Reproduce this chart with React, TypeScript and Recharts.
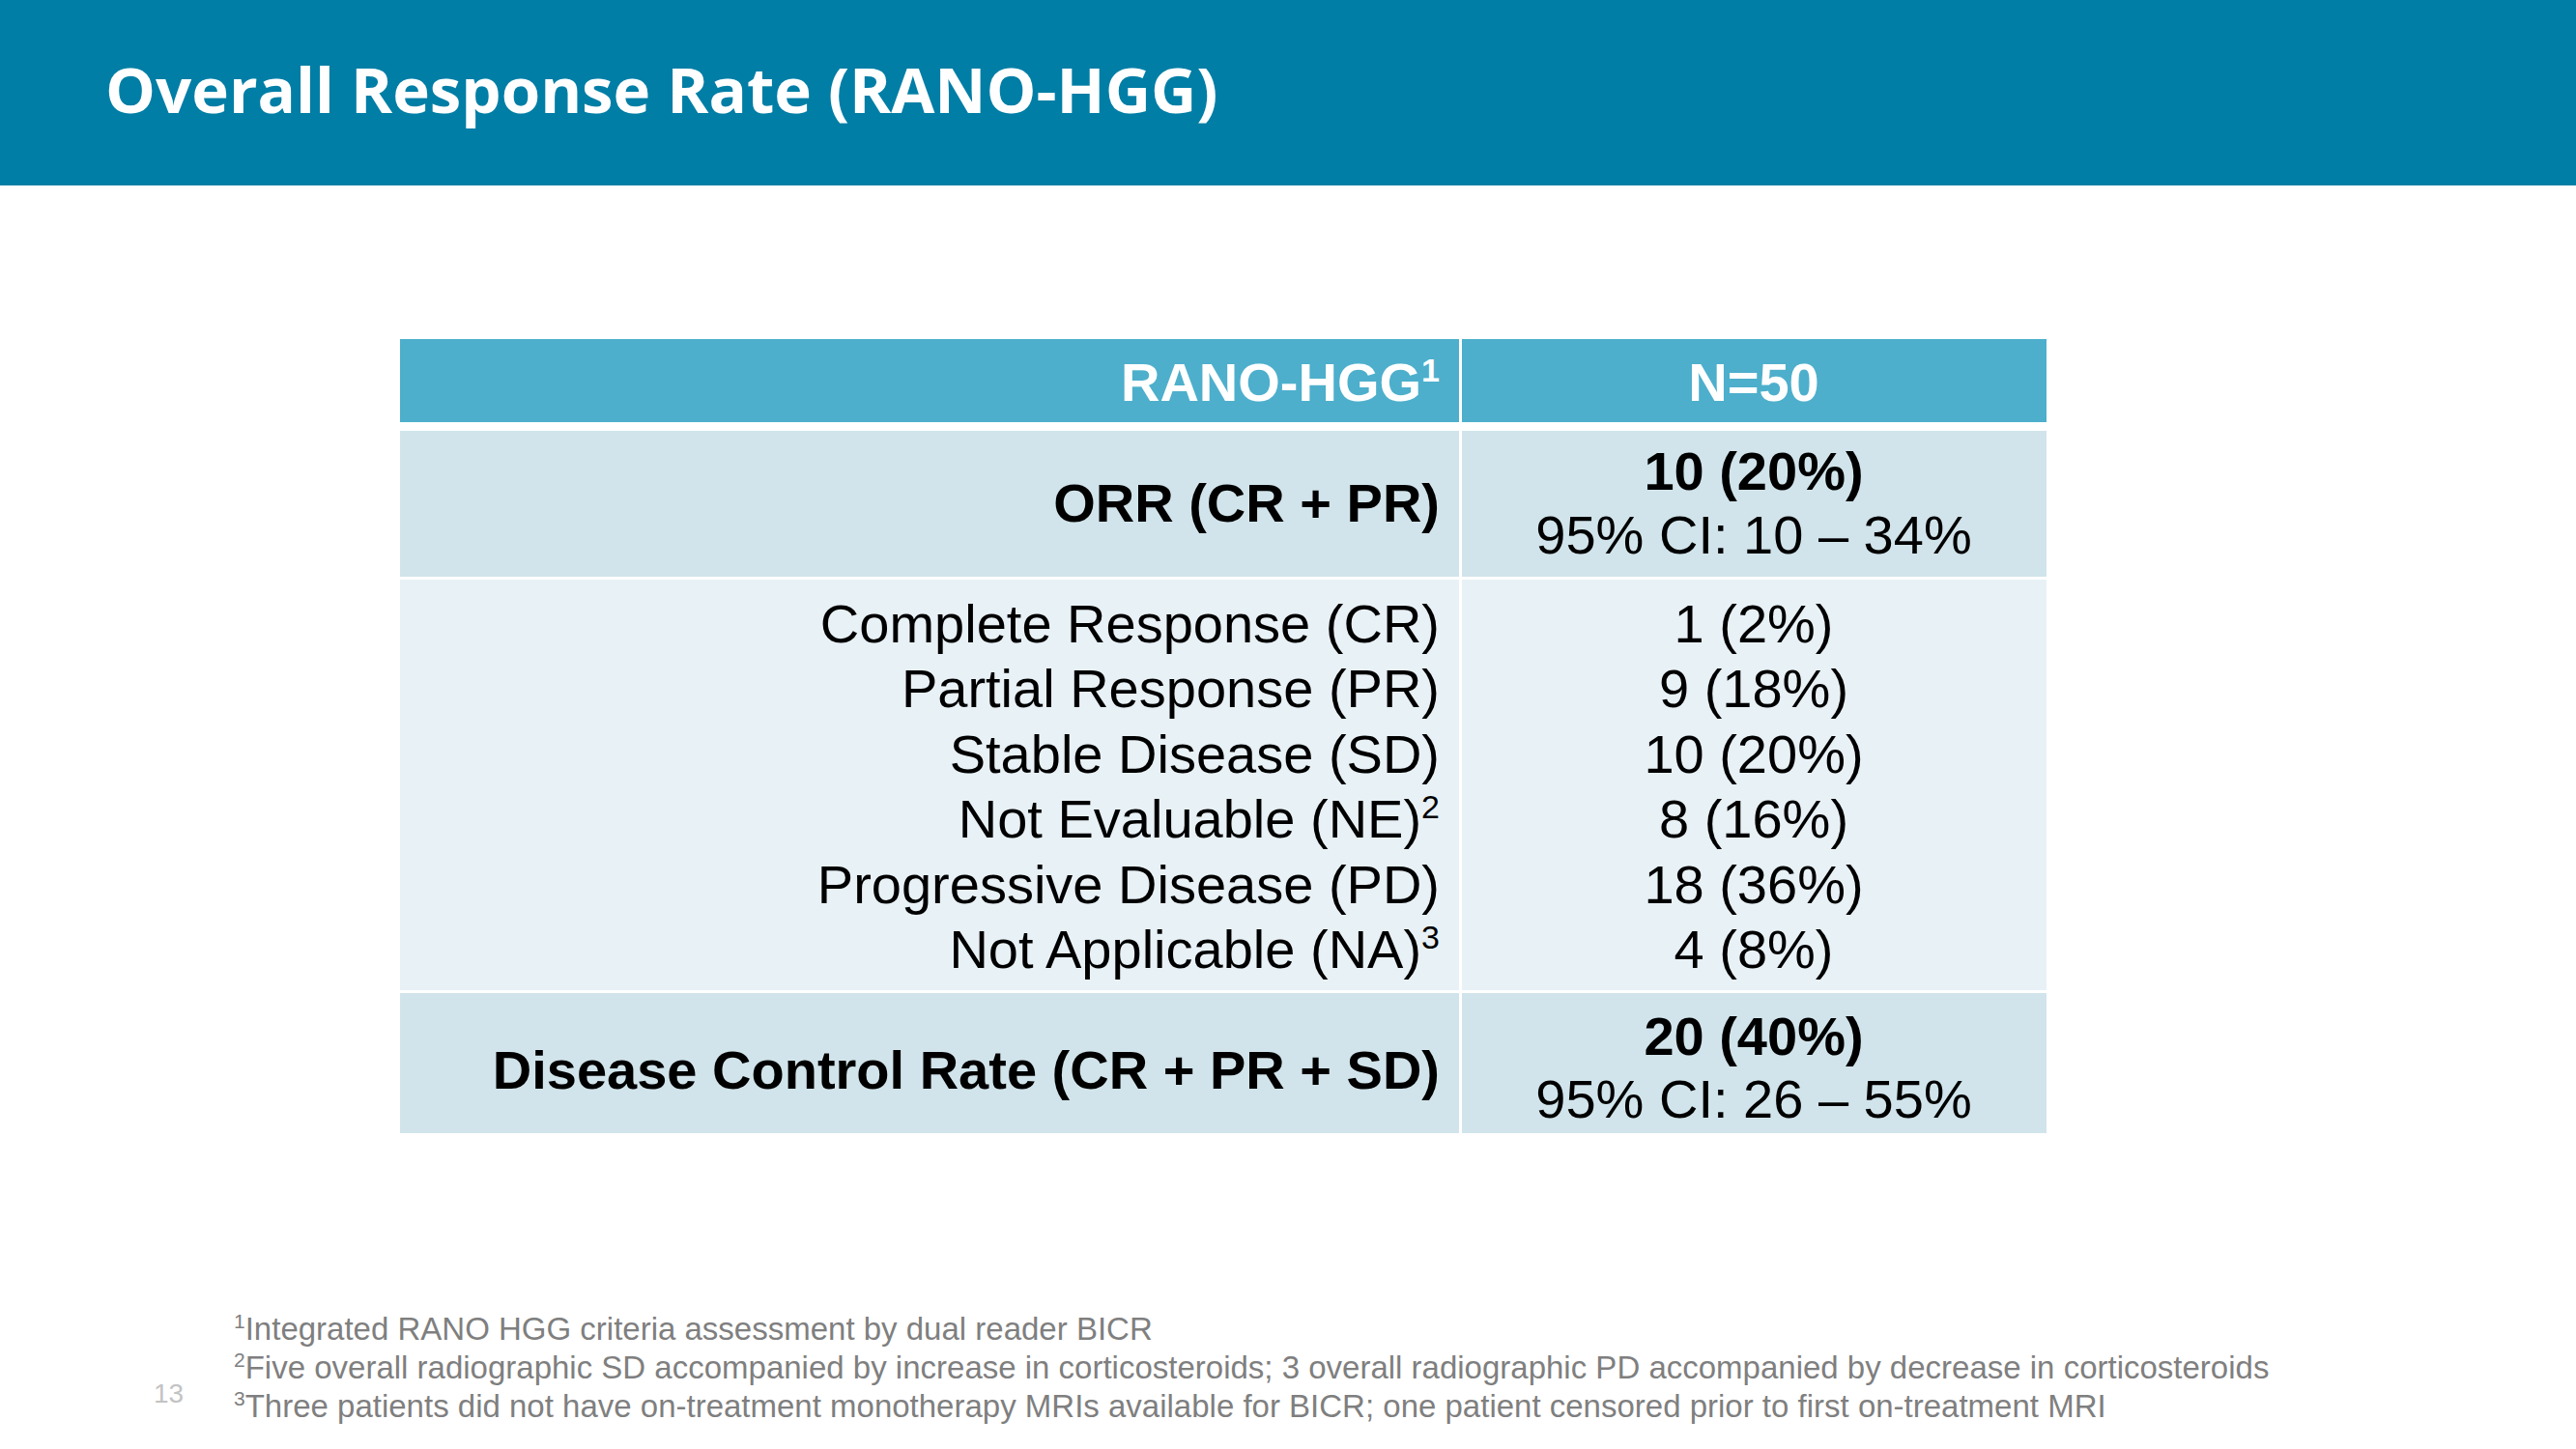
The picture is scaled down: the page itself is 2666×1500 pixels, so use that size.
import React from 'react';
import { Surface, Layer, Rectangle } from 'recharts';

const title = 'Overall Response Rate (RANO-HGG)';
const headerLabel = 'RANO-HGG';
const headerNote = '1';
const totalN = 50;

const orrLabel = 'ORR (CR + PR)';
const orrCount = 10;
const orrCI = [10, 34];

const responseCategories = [
  'Complete Response (CR)',
  'Partial Response (PR)',
  'Stable Disease (SD)',
  'Not Evaluable (NE)',
  'Progressive Disease (PD)',
  'Not Applicable (NA)',
];
const responseNotes = ['', '', '', '2', '', '3'];
const responseCounts = [1, 9, 10, 8, 18, 4];

const dcrLabel = 'Disease Control Rate (CR + PR + SD)';
const dcrCount = 20;
const dcrCI = [26, 55];

const footnoteMarks = ['1', '2', '3'];
const footnotes = [
  'Integrated RANO HGG criteria assessment by dual reader BICR',
  'Five overall radiographic SD accompanied by increase in corticosteroids; 3 overall radiographic PD accompanied by decrease in corticosteroids',
  'Three patients did not have on-treatment monotherapy MRIs available for BICR; one patient censored prior to first on-treatment MRI',
];
const pageNumber = '13';

// layout
const W = 2666;
const H = 1500;
const X0 = 414;
const SPLIT = 1510;
const X2 = 1513;
const X1 = 2118;
const LABEL_RIGHT = 1490;
const VALUE_CX = 1815;
const ROW_HEADER = [351, 437];
const ROW_ORR = [446, 597];
const ROW_MID = [600, 1025];
const ROW_DCR = [1028, 1173];
const MID_FIRST = 665;
const MID_STEP = 67.4;

const FONT = '"Liberation Sans", Arial, sans-serif';
const SIZE = 56;

const pct = (n: number) => `${n} (${Math.round((n / totalN) * 100)}%)`;
const ci = (c: number[]) => `95% CI: ${c[0]} \u2013 ${c[1]}%`;

function Cells({ row, fill }: { row: number[]; fill: string }) {
  return (
    <Layer>
      <Rectangle x={X0} y={row[0]} width={SPLIT - X0} height={row[1] - row[0]} fill={fill} />
      <Rectangle x={X2} y={row[0]} width={X1 - X2} height={row[1] - row[0]} fill={fill} />
    </Layer>
  );
}

function Label({ y, text, note, bold, color = '#000' }: { y: number; text: string; note?: string; bold?: boolean; color?: string }) {
  return (
    <text x={LABEL_RIGHT} y={y} textAnchor="end" fontFamily={FONT} fontSize={SIZE} fontWeight={bold ? 700 : 400} fill={color}>
      {text}
      {note ? (
        <tspan fontSize={34} dy={-20}>
          {note}
        </tspan>
      ) : null}
    </text>
  );
}

function Value({ y, text, bold, color = '#000' }: { y: number; text: string; bold?: boolean; color?: string }) {
  return (
    <text x={VALUE_CX} y={y} textAnchor="middle" fontFamily={FONT} fontSize={SIZE} fontWeight={bold ? 700 : 400} fill={color}>
      {text}
    </text>
  );
}

export default function App() {
  return (
    <div style={{ position: 'absolute', left: 0, top: 0, width: W, height: H, background: '#fff' }}>
      <Surface width={W} height={H}>
        <Rectangle x={0} y={0} width={W} height={192} fill="#007EA6" />
        <text x={109} y={117} fontFamily='"Open Sans", sans-serif' fontWeight={700} fontSize={65.4} fill="#fff">
          {title}
        </text>

        <Cells row={ROW_HEADER} fill="#4DAFCC" />
        <Cells row={ROW_ORR} fill="#D1E4EB" />
        <Cells row={ROW_MID} fill="#E8F1F6" />
        <Cells row={ROW_DCR} fill="#D1E4EB" />

        <Label y={415} text={headerLabel} note={headerNote} bold color="#fff" />
        <Value y={415} text={`N=${totalN}`} bold color="#fff" />

        <Label y={540} text={orrLabel} bold />
        <Value y={507} text={pct(orrCount)} bold />
        <Value y={573} text={ci(orrCI)} />

        {responseCategories.map((c, i) => (
          <Layer key={c}>
            <Label y={MID_FIRST + i * MID_STEP} text={c} note={responseNotes[i]} />
            <Value y={MID_FIRST + i * MID_STEP} text={pct(responseCounts[i])} />
          </Layer>
        ))}

        <Label y={1127} text={dcrLabel} bold />
        <Value y={1092} text={pct(dcrCount)} bold />
        <Value y={1157} text={ci(dcrCI)} />

        {footnotes.map((f, i) => (
          <text key={i} x={242} y={1387 + i * 40} fontFamily={FONT} fontSize={33} fill="#7F7F7F">
            <tspan fontSize={21} dy={-12}>
              {footnoteMarks[i]}
            </tspan>
            <tspan dy={12}>{f}</tspan>
          </text>
        ))}
        <text x={159} y={1452} fontFamily={FONT} fontSize={28} fill="#C3C3C3">
          {pageNumber}
        </text>
      </Surface>
    </div>
  );
}
